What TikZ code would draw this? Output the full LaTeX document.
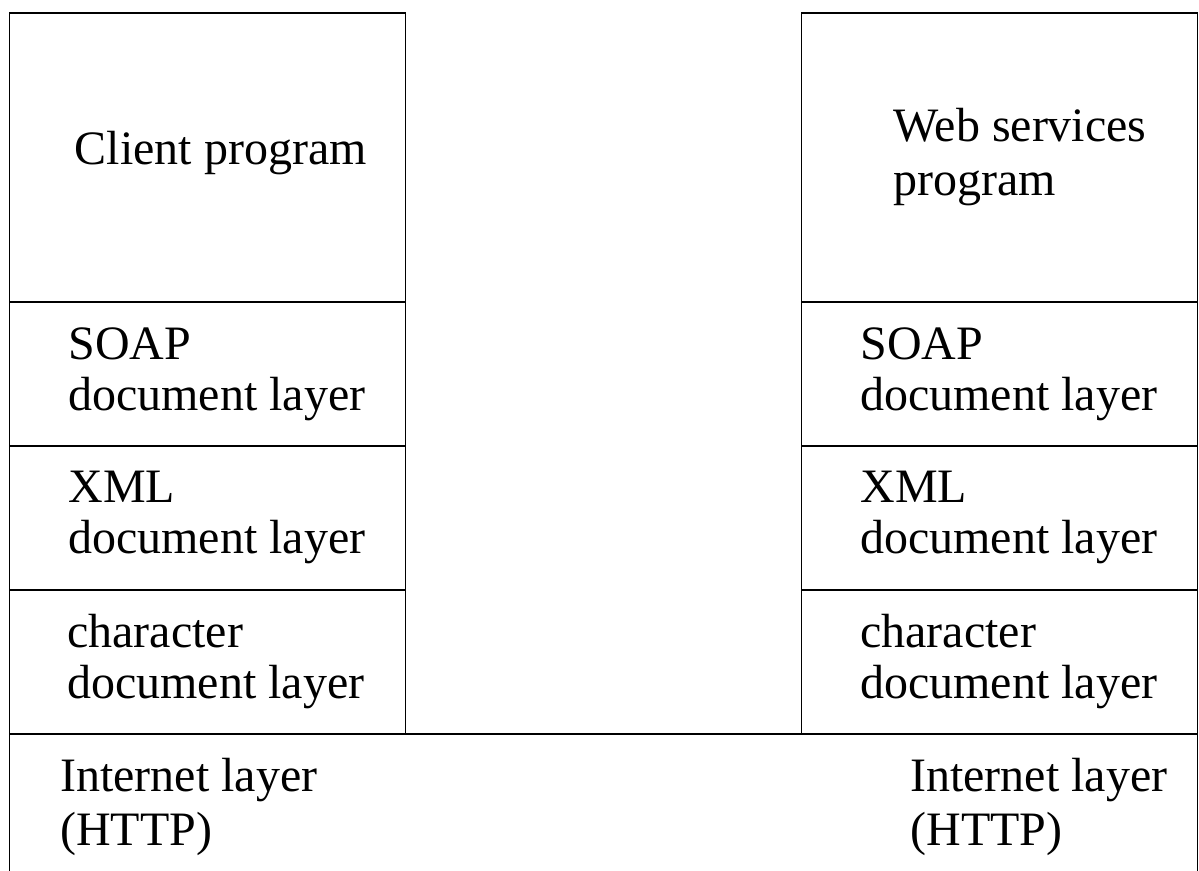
\documentclass[tikz,border=0pt]{standalone}
\usepackage{fontspec}
\setmainfont{Liberation Serif}
\usetikzlibrary{positioning, calc}

\begin{document}
\begin{tikzpicture}[
        x=0.02cm, y=-0.02cm,
        layer/.style={draw, rectangle, line width=0.8pt, outer sep=0pt, minimum width=7.92cm, minimum height=2.88cm},
        prog/.style={layer, minimum height=5.78cm},
        lbl/.style={align=left, inner sep=0pt, anchor=west, font=\fontsize{27.3}{29}\selectfont},
        widelbl/.style={lbl, font=\fontsize{27.3}{30.7}\selectfont}
    ]
    \useasboundingbox (0,0) rectangle (1199,871);

    % client side
    \node[prog] (client) at (207.5,157.5) {};
    \node[layer, below=0pt of client] (soapL) {};
    \node[layer, below=0pt of soapL] (xmlL) {};
    \node[layer, below=0pt of xmlL] (charL) {};

    % server side
    \node[prog] (server) at (999.5,157.5) {};
    \node[layer, below=0pt of server] (soapR) {};
    \node[layer, below=0pt of soapR] (xmlR) {};
    \node[layer, below=0pt of xmlR] (charR) {};

    % shared internet layer
    \node[layer, minimum width=23.76cm, minimum height=3cm, below=0pt of charL.south west, anchor=north west] (inet) {};

    \node[lbl] (clientT) at ($(client.west)+(65,-4)$) {Client program};
    \node[widelbl] (serverT) at ($(server.west)+(91.5,0)$) {Web services\\program};
    \node[lbl] (soapLT) at ($(soapL.west)+(58.5,0)$) {SOAP\\document layer};
    \node[lbl] (xmlLT) at ($(xmlL.west)+(58.5,0)$) {XML\\document layer};
    \node[lbl] (charLT) at ($(charL.west)+(57.5,0)$) {character\\document layer};
    \node[lbl] (soapRT) at ($(soapR.west)+(58.5,0)$) {SOAP\\document layer};
    \node[lbl] (xmlRT) at ($(xmlR.west)+(58.5,0)$) {XML\\document layer};
    \node[lbl] (charRT) at ($(charR.west)+(58.5,0)$) {character\\document layer};
    \node[widelbl] (inetLT) at ($(inet.north west)+(50.5,73.5)$) {Internet layer\\(HTTP)};
    \node[widelbl] (inetRT) at ($(inet.north west)+(900.5,73.5)$) {Internet layer\\(HTTP)};
\end{tikzpicture}
\end{document}
